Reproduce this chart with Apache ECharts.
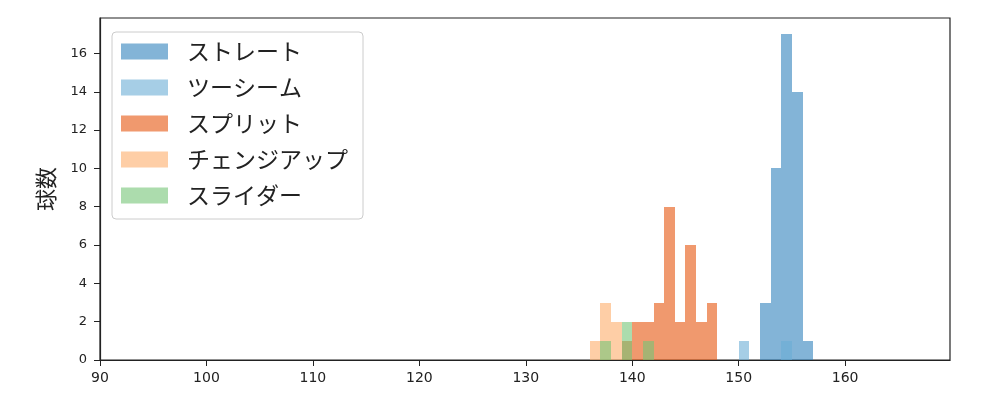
<!DOCTYPE html>
<html>
<head>
<meta charset="utf-8">
<script src="https://cdn.jsdelivr.net/npm/echarts@6/dist/echarts.min.js"></script>
<style>html,body{margin:0;padding:0;background:#fff}#c{width:1000px;height:400px}</style>
</head>
<body>
<div id="c"></div>
<script>
// Histogram bins (width 1), start value of each bin and its count
const seriesNames = ['ストレート', 'ツーシーム', 'スプリット', 'チェンジアップ', 'スライダー'];
const straightBins = [152, 153, 154, 155, 156];
const straightCounts = [3, 10, 17, 14, 1];
const twoSeamBins = [150, 154];
const twoSeamCounts = [1, 1];
const splitBins = [139, 140, 141, 142, 143, 144, 145, 146, 147];
const splitCounts = [1, 2, 2, 3, 8, 2, 6, 2, 3];
const changeBins = [136, 137, 138];
const changeCounts = [1, 3, 2];
const sliderBins = [137, 139, 141];
const sliderCounts = [1, 2, 1];
const binWidth = 1;
const xTicks = [90, 100, 110, 120, 130, 140, 150, 160];
const yTicks = [0, 2, 4, 6, 8, 10, 12, 14, 16];
const colors = ['rgba(49,130,189,0.6)', 'rgba(107,174,214,0.6)', 'rgba(230,85,13,0.6)', 'rgba(253,174,107,0.6)', 'rgba(116,196,118,0.6)'];

const allBins = [straightBins, twoSeamBins, splitBins, changeBins, sliderBins];
const allCounts = [straightCounts, twoSeamCounts, splitCounts, changeCounts, sliderCounts];

function renderBin(params, api) {
  const x0 = api.value(0), x1 = api.value(1), h = api.value(2);
  const p0 = api.coord([x0, 0]);
  const p1 = api.coord([x1, h]);
  const left = Math.round(p0[0]), right = Math.round(p1[0]);
  const top = Math.round(p1[1]), bottom = Math.round(p0[1]);
  return {
    type: 'rect',
    shape: { x: left, y: top, width: right - left, height: bottom - top },
    style: { fill: api.visual('color'), stroke: null, lineWidth: 0 }
  };
}

const series = seriesNames.map((name, i) => ({
  name: name,
  type: 'custom',
  renderItem: renderBin,
  itemStyle: { color: colors[i] },
  encode: { x: [0, 1], y: 2 },
  data: allBins[i].map((b, k) => [b, b + binWidth, allCounts[i][k]]),
  z: 2 + i
}));

const chart = echarts.init(document.getElementById('c'), null, { renderer: 'canvas' });
chart.setOption({
  animation: false,
  backgroundColor: '#fff',
  grid: { left: 100, right: 50, top: 18, bottom: 40, show: true, borderColor: '#222', borderWidth: 1.2, backgroundColor: 'transparent' },
  xAxis: {
    type: 'value', min: 90, max: 169.85,
    splitLine: { show: false },
    axisLine: { onZero: false, lineStyle: { color: '#222', width: 1.2 } },
    axisTick: { show: true, length: 6, lineStyle: { color: '#222' }, customValues: xTicks },
    axisLabel: { customValues: xTicks, color: '#222', fontSize: 14, fontFamily: 'DejaVu Sans', margin: 11 }
  },
  yAxis: {
    type: 'value', min: 0, max: 17.85,
    name: '球数', nameLocation: 'middle', nameGap: 43,
    nameTextStyle: { fontSize: 22, fontFamily: 'Noto Sans CJK JP', color: '#222' },
    splitLine: { show: false },
    axisLine: { show: true, lineStyle: { color: '#222', width: 1.2 } },
    axisTick: { show: true, length: 6, lineStyle: { color: '#222' }, customValues: yTicks },
    axisLabel: { customValues: yTicks, color: '#222', fontSize: 13, fontFamily: 'DejaVu Sans', margin: 13 }
  },
  legend: {
    orient: 'vertical', left: 112, top: 32,
    data: seriesNames.map((n, i) => ({ name: n, itemStyle: { color: colors[i] } })),
    itemWidth: 47, itemHeight: 16, itemGap: 13,
    padding: [8, 15, 12, 9],
    borderColor: '#ccc', borderWidth: 1, borderRadius: 4, backgroundColor: 'rgba(255,255,255,0.8)',
    textStyle: { fontSize: 23, lineHeight: 22, fontFamily: 'Noto Sans CJK JP', color: '#222', padding: [0, 0, 0, 14] },
    icon: 'rect', selectedMode: false
  },
  series: series
});
</script>
</body>
</html>
